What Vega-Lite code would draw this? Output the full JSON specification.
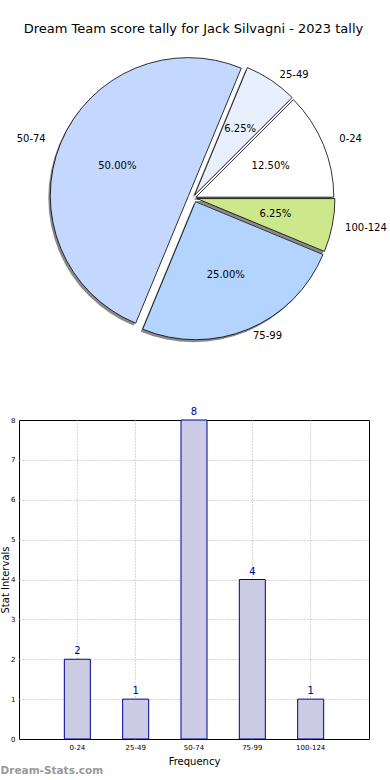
{
  "$schema": "https://vega.github.io/schema/vega-lite/v6.json",
  "padding": {"left": 0, "top": 23, "right": 0, "bottom": 0},
  "bounds": "flush",
  "spacing": 73,
  "title": {"text": "Dream Team score tally for Jack Silvagni - 2023 tally", "fontSize": 13, "fontWeight": "normal", "offset": 13, "anchor": "middle", "color": "#000000"},
  "config": {
    "font": "DejaVu Sans",
    "view": {"stroke": null},
    "axis": {"labelColor": "#000000", "titleColor": "#000000", "titleFontWeight": "normal"}
  },
  "datasets": {
    "tally": [
      {"range": "0-24", "count": 2, "pct": "12.50%", "idx": 1},
      {"range": "25-49", "count": 1, "pct": "6.25%", "idx": 2},
      {"range": "50-74", "count": 8, "pct": "50.00%", "idx": 3},
      {"range": "75-99", "count": 4, "pct": "25.00%", "idx": 4},
      {"range": "100-124", "count": 1, "pct": "6.25%", "idx": 5}
    ]
  },
  "vconcat": [
    {
      "width": 350,
      "height": 298,
      "data": {"name": "tally"},
      "encoding": {
        "theta": {"field": "count", "type": "quantitative", "stack": true, "scale": {"range": [1.5708, -4.7124]}},
        "order": {"field": "idx", "type": "quantitative"},
        "color": {"field": "range", "type": "nominal", "scale": {"domain": ["0-24", "25-49", "50-74", "75-99", "100-124"], "range": ["#ffffff", "#e8f0ff", "#c4d8ff", "#b3d4ff", "#cce88a"]}, "legend": null}
      },
      "layer": [
        {
          "mark": {"type": "arc", "radius": 138, "fill": "#8a8a8a",
            "xOffset": {"expr": "(datum.range === '50-74' ? -5.5 : datum.range === '75-99' ? 1.5 : datum.range === '25-49' ? 0.6 : datum.range === '0-24' ? 1.8 : 2.9) - 2"},
            "yOffset": {"expr": "(datum.range === '50-74' ? -2.3 : datum.range === '75-99' ? 3.7 : datum.range === '25-49' ? -2.9 : datum.range === '0-24' ? -0.8 : 0.6) + 2.5"}},
          "encoding": {"color": {"value": "#8a8a8a"}}
        },
        {
          "mark": {"type": "arc", "radius": 138, "stroke": "#000000", "strokeWidth": 0.8,
            "xOffset": {"expr": "datum.range === '50-74' ? -5.5 : datum.range === '75-99' ? 1.5 : datum.range === '25-49' ? 0.6 : datum.range === '0-24' ? 1.8 : 2.9"},
            "yOffset": {"expr": "datum.range === '50-74' ? -2.3 : datum.range === '75-99' ? 3.7 : datum.range === '25-49' ? -2.9 : datum.range === '0-24' ? -0.8 : 0.6"}}
        },
        {
          "mark": {"type": "text", "radius": 154, "fontSize": 10, "baseline": "middle",
            "align": {"expr": "datum.range === '50-74' ? 'right' : 'left'"},
            "xOffset": {"expr": "datum.range === '50-74' ? -6 : datum.range === '0-24' ? 3 : 0"},
            "yOffset": {"expr": "datum.range === '75-99' ? -4 : datum.range === '25-49' ? 5 : 0"}},
          "encoding": {"text": {"field": "range"}, "color": {"value": "#000000"}}
        },
        {
          "mark": {"type": "text", "radius": 83, "fontSize": 10, "baseline": "middle", "align": "center"},
          "encoding": {"text": {"field": "pct"}, "color": {"value": "#000000"}}
        }
      ]
    },
    {
      "width": 350,
      "height": 319,
      "view": {"stroke": "#000000", "strokeWidth": 1},
      "data": {"name": "tally"},
      "title": {"text": "Dream-Stats.com", "orient": "bottom", "anchor": "start", "fontSize": 10.5, "fontWeight": "bold", "color": "#999999", "offset": 0},
      "encoding": {
        "x": {"field": "range", "type": "nominal", "sort": null,
          "scale": {"paddingInner": 0.554, "paddingOuter": 0.777},
          "axis": {"title": "Frequency", "labelAngle": 0, "labelFontSize": 7, "titleFontSize": 10, "grid": true, "bandPosition": 0.5, "gridDash": [1, 2], "gridColor": "#b0b0b0", "ticks": false, "labelPadding": 4, "titlePadding": 6, "domain": false}},
        "y": {"field": "count", "type": "quantitative", "scale": {"domain": [0, 8]},
          "axis": {"title": "Stat Intervals", "values": [0, 1, 2, 3, 4, 5, 6, 7, 8], "labelFontSize": 7, "titleFontSize": 10, "gridDash": [1, 2], "gridColor": "#b0b0b0",
            "gridOpacity": {"condition": {"test": "datum.value === 8 || datum.value === 0", "value": 0}, "value": 1},
            "ticks": false, "labelPadding": 4, "titlePadding": 0, "domain": false}}
      },
      "layer": [
        {"mark": {"type": "bar", "fill": "#cbcbe4", "stroke": "#000099", "strokeWidth": 1}},
        {"mark": {"type": "text", "dy": -8, "fontSize": 10, "color": "#000099"}, "encoding": {"text": {"field": "count", "type": "quantitative"}}}
      ]
    }
  ]
}
